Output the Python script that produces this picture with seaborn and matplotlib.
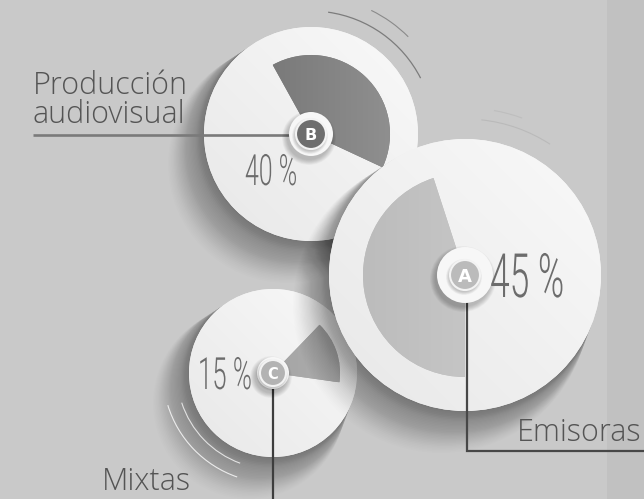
import numpy as np
import matplotlib
matplotlib.use("Agg")
import matplotlib.pyplot as plt
import seaborn as sns
from matplotlib.patches import Circle, Rectangle, Arc
from matplotlib.colors import LinearSegmentedColormap
from matplotlib.patheffects import AbstractPathEffect
from matplotlib.transforms import Affine2D
from matplotlib import font_manager as fm

# ---- data -------------------------------------------------------------
letters = ["A", "B", "C"]
categories = ["Emisoras", "Producción\naudiovisual", "Mixtas"]
shares = [45, 40, 15]
pct_labels = ["45 %", "40 %", "15 %"]

# ---- style ------------------------------------------------------------
sns.set_theme(style="white")
available = {f.name for f in fm.fontManager.ttflist}


def pick(cands, default="DejaVu Sans"):
    for c in cands:
        if c in available:
            return c
    return default


label_font = pick(["Open Sans", "Lato", "Noto Sans"])
pct_font = pick(["Roboto", "Open Sans", "Lato"])
plt.rcParams["font.family"] = [label_font, "DejaVu Sans"]

BG = "#c9c9c9"
W, H = 644, 499
fig = plt.figure(figsize=(6.44, 4.99), dpi=100)
fig.patch.set_facecolor(BG)
ax = fig.add_axes([0, 0, 1, 1])
ax.set_facecolor(BG)
ax.set_xlim(0, W)
ax.set_ylim(0, H)

# right darker strip
ax.add_patch(Rectangle((607, 0), 40, H, color="#c1c1c1", lw=0, zorder=0))


class HStretch(AbstractPathEffect):
    """Condense glyphs horizontally around the text anchor."""

    def __init__(self, sx, x_anchor):
        super().__init__()
        self.sx = sx
        self.xa = x_anchor

    def draw_path(self, renderer, gc, tpath, affine, rgbFace=None):
        x0 = ax.transData.transform((self.xa, 0))[0]
        t = affine + Affine2D().translate(-x0, 0).scale(self.sx, 1).translate(x0, 0)
        renderer.draw_path(gc, tpath, t, rgbFace)


def gradient_fill(patch, c1, c2, z, direction=(1, 1)):
    ext = patch.get_extents()
    inv = ax.transData.inverted()
    (x0, y0), (x1, y1) = inv.transform([[ext.x0, ext.y0], [ext.x1, ext.y1]])
    gx, gy = np.meshgrid(np.linspace(0, 1, 128), np.linspace(0, 1, 128))
    dx, dy = direction
    val = (gx * dx + gy * dy)
    val = (val - val.min()) / (val.max() - val.min() + 1e-9)
    cmap = LinearSegmentedColormap.from_list("g", [c1, c2])
    im = ax.imshow(val, extent=(x0, x1, y0, y1), origin="lower", cmap=cmap,
                   zorder=z, interpolation="bilinear", aspect="auto")
    im.set_clip_path(patch)
    return im


# layout of each donut
layout = {
    "A": dict(c=(465, 224), r=136, rw=102, start=108, z=30,
              wedge=("#bcbcbc", "#c5c5c5"), dot="#bbbbbb", halo=28, dot_r=15),
    "B": dict(c=(311, 365), r=107, rw=79, start=-25, z=20,
              wedge=("#7a7a7a", "#8f8f8f"), dot="#6e6e6e", halo=22, dot_r=15),
    "C": dict(c=(273, 126), r=84, rw=67, start=-8, z=10,
              wedge=("#a5a5a5", "#adadad"), dot="#b3b3b3", halo=16, dot_r=13),
}


def long_shadow(cx, cy, r, z, length=30, alpha=0.45, blur=12, n=30):
    for i in range(n):
        t = (i + 1) / n
        ax.add_patch(Circle((cx - 0.8 * length * t, cy - length * t), r + blur * t,
                            color="black", alpha=alpha / n * (1.5 - t), lw=0, zorder=z))


def soft_shadow(cx, cy, r, dx, dy, blur, alpha_total, z, n=10):
    for i in range(n):
        t = i / (n - 1)
        ax.add_patch(Circle((cx + dx, cy + dy), r + blur * (1 - t), color="black",
                            alpha=alpha_total / n, lw=0, zorder=z))


for letter, share in zip(letters, shares):
    L = layout[letter]
    cx, cy = L["c"]
    z = L["z"]
    long_shadow(cx, cy, L["r"], z)
    disc = Circle((cx, cy), L["r"], facecolor="#f4f4f4", lw=0, zorder=z + 1)
    ax.add_patch(disc)
    gradient_fill(disc, "#e8e8e8", "#f9f9f9", z + 1.5, direction=(1, 1))
    wedges, _ = ax.pie([share, 100 - share], colors=[L["wedge"][0], (0, 0, 0, 0)],
                       startangle=L["start"], center=(cx, cy), radius=L["rw"],
                       wedgeprops=dict(linewidth=0), frame=True)
    for w in wedges:
        w.set_zorder(z + 2)
    gradient_fill(wedges[0], L["wedge"][0], L["wedge"][1], z + 2.5, direction=(1, 0))

# decorative arcs
for (cx, cy), rad, t1, t2, col, lw in [
    ((311, 365), 123, 27, 82, "#7c7c7c", 0.9),
    ((311, 365), 137.5, 45, 64, "#8a8a8a", 0.8),
    ((465, 224), 156, 57, 84, "#bababa", 0.8),
    ((465, 224), 167, 70, 80, "#bebebe", 0.8),
    ((273, 126), 110, 197, 251, "#ececec", 0.8),
    ((273, 126), 96, 198, 250, "#e2e2e2", 0.8),
]:
    ax.add_patch(Arc((cx, cy), 2 * rad, 2 * rad, theta1=t1, theta2=t2,
                     color=col, lw=lw, zorder=45))

# leader lines
ax.plot([33, 311], [364, 364], color="#7a7a7a", lw=1.9, zorder=23, solid_capstyle="butt")
ax.plot([467, 467, 650], [224, 48, 48], color="#474747", lw=1.6, zorder=33,
        solid_joinstyle="miter")
ax.plot([273, 273], [126, -5], color="#3d3d3d", lw=1.6, zorder=13)

# markers
for letter in letters:
    L = layout[letter]
    cx, cy = L["c"]
    z = L["z"] + 4
    soft_shadow(cx, cy, L["halo"], -2, -4, 5, 0.25, z, n=10)
    ax.add_patch(Circle((cx, cy), L["halo"], color="#f7f7f7", lw=0, zorder=z + 1))
    soft_shadow(cx, cy, L["dot_r"], -1, -2, 3, 0.22, z + 1, n=6)
    ax.add_patch(Circle((cx, cy), L["dot_r"], facecolor=L["dot"], edgecolor="#f3f3f3",
                        lw=1.5, zorder=z + 2))
    fs = {"A": 13, "B": 11.5, "C": 10.5}[letter]
    ax.text(cx, cy, letter, ha="center", va="center_baseline", color="white",
            fontsize=fs, fontweight="bold", family=["DejaVu Sans"], zorder=z + 3)

# percentage labels (thin condensed figures)
pct_pos = {"A": (490, 202, "left", 44), "B": (271, 314, "center", 31),
           "C": (252, 110, "right", 32)}
for letter, txt in zip(letters, pct_labels):
    x, y, ha, size = pct_pos[letter]
    ax.text(x, y, txt, ha=ha, va="baseline", color="#6c6c6c", fontsize=size,
            family=[pct_font, "DejaVu Sans"], fontweight=300,
            zorder=layout[letter]["z"] + 8,
            path_effects=[HStretch(0.58, x)])

# category labels
lab_pos = {"A": (517, 58), "B": (33, 405), "C": (102, 9)}
for letter, cat in zip(letters, categories):
    x, y = lab_pos[letter]
    for k, line in enumerate(cat.split("\n")):
        ax.text(x, y - 29 * k, line, ha="left", va="baseline", color="#545454",
                fontsize=22, fontweight=300, zorder=50)

ax.set_xlim(0, W)
ax.set_ylim(0, H)
ax.set_aspect("auto")
ax.axis("off")
fig.savefig("out.png", dpi=100, facecolor=BG)
